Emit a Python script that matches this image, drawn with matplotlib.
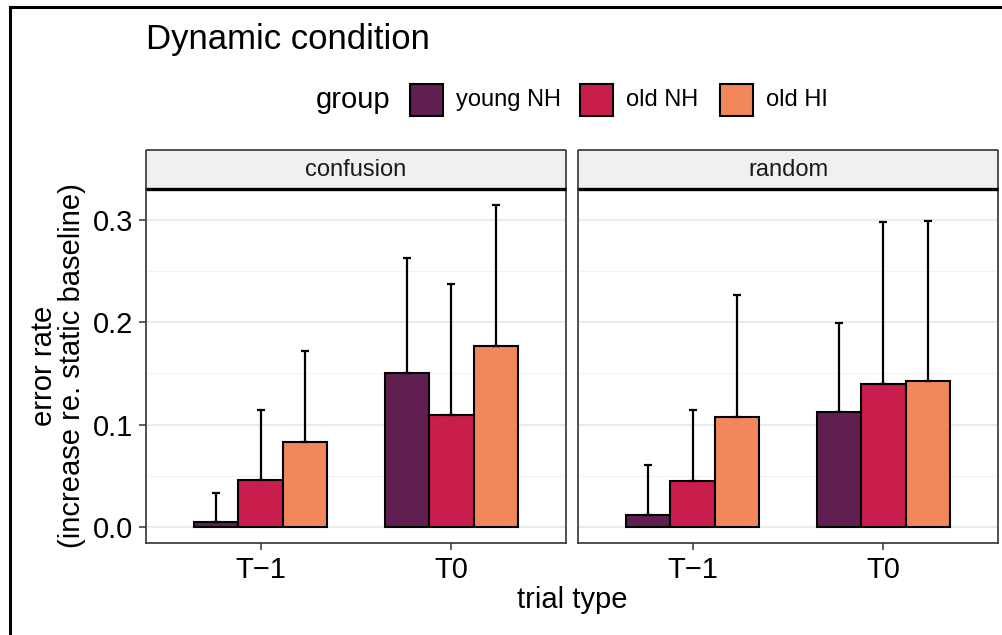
import numpy as np
import matplotlib
matplotlib.use("Agg")
import matplotlib.pyplot as plt
from matplotlib.lines import Line2D
from matplotlib.patches import Rectangle

plt.rcParams['font.family'] = ['Liberation Sans', 'DejaVu Sans']

# data
trial_types = ['T\u22121', 'T0']
groups = ['young NH', 'old NH', 'old HI']
colors = ['#611F51', '#C91D4C', '#F3875C']
panels = ['confusion', 'random']

# means [group][trial type]
mean_confusion = [[0.005, 0.150], [0.046, 0.109], [0.083, 0.177]]
sd_confusion = [[0.028, 0.113], [0.068, 0.128], [0.089, 0.137]]
mean_random = [[0.012, 0.112], [0.0445, 0.140], [0.107, 0.1425]]
sd_random = [[0.048, 0.087], [0.070, 0.158], [0.119, 0.1565]]

means = [mean_confusion, mean_random]
sds = [sd_confusion, sd_random]

W, H = 1003, 635
fig = plt.figure(figsize=(W / 100, H / 100), dpi=100)


def box(x0, y0, x1, y1):
    # pixel box (top-left origin) -> figure fraction rect
    return [x0 / W, 1 - y1 / H, (x1 - x0) / W, (y1 - y0) / H]


panel_x = [(146, 566), (578, 998)]
strip_top, strip_bot, plot_bot = 150, 189, 543
bw = 0.7 / 3
offs = [-bw, 0, bw]

for p in range(2):
    x0, x1 = panel_x[p]
    ax = fig.add_axes(box(x0, strip_bot, x1, plot_bot))
    ax.set_xlim(-0.6, 1.6)
    ax.set_ylim(-0.0157, 0.330)
    ax.set_yticks([0, 0.1, 0.2, 0.3])
    ax.set_yticks([0.05, 0.15, 0.25], minor=True)
    ax.set_xticks(range(len(trial_types)))
    ax.set_xticklabels(trial_types, fontsize=21)
    ax.grid(True, which='major', axis='y', color='#EBEBEB', lw=1.4, zorder=0)
    ax.grid(True, which='minor', axis='y', color='#F3F3F3', lw=0.8, zorder=0)
    ax.set_axisbelow(True)
    ax.tick_params(axis='both', which='major', length=5, width=1.1, color='#333333', pad=4)
    ax.tick_params(axis='y', which='minor', length=0)
    if p == 0:
        ax.set_yticklabels(['0.0', '0.1', '0.2', '0.3'], fontsize=21)
    else:
        ax.tick_params(axis='y', which='major', length=0, labelleft=False)
    for s in ax.spines.values():
        s.set_color('#333333')
        s.set_linewidth(1.2)
    xs = np.arange(len(trial_types))
    for g in range(3):
        m = np.array(means[p][g])
        sd = np.array(sds[p][g])
        ax.bar(xs + offs[g], m, width=bw, color=colors[g], edgecolor='black',
               linewidth=1.5, zorder=2)
        ax.errorbar(xs + offs[g], m, yerr=[np.zeros_like(sd), sd], fmt='none',
                    ecolor='black', elinewidth=1.6, capsize=3, capthick=1.6, zorder=3)

    # strip
    sax = fig.add_axes(box(x0, strip_top, x1, strip_bot))
    sax.set_xticks([])
    sax.set_yticks([])
    sax.set_facecolor('#F0F0F0')
    for s in sax.spines.values():
        s.set_color('#333333')
        s.set_linewidth(1.2)
        s.set_capstyle('butt')
    sax.spines['bottom'].set_color('black')
    sax.spines['bottom'].set_linewidth(2.4)
    sax.text(0.5, 0.5, panels[p], ha='center', va='center', fontsize=17,
             color='#1A1A1A', transform=sax.transAxes)

# axis titles
fig.text(572 / W, 1 - 600 / H, 'trial type', ha='center', va='center', fontsize=21)
fig.text(58 / W, 1 - 366 / H, 'error rate\n(increase re. static baseline)', rotation=90,
         ha='center', va='center', fontsize=21, multialignment='center', linespacing=1.0)

# title
fig.text(146 / W, 1 - 40 / H, 'Dynamic condition', ha='left', va='center', fontsize=25)

# legend
fig.text(316 / W, 1 - 100 / H, 'group', ha='left', va='center', fontsize=21)
key_x = [410, 580, 720]
for g in range(3):
    fig.add_artist(Rectangle((key_x[g] / W, 1 - 116 / H), 33 / W, 32 / H,
                             transform=fig.transFigure, facecolor=colors[g],
                             edgecolor='black', linewidth=1.5))
    fig.text((key_x[g] + 46) / W, 1 - 100 / H, groups[g], ha='left', va='center',
             fontsize=17)

# outer frame lines
fig.add_artist(Line2D([10 / W, 10 / W], [0, 1 - 7 / H], color='black', lw=2.2,
                      transform=fig.transFigure))
fig.add_artist(Line2D([10 / W, 1], [1 - 7 / H, 1 - 7 / H], color='black', lw=2.2,
                      transform=fig.transFigure))

fig.savefig('out.png', dpi=100)
